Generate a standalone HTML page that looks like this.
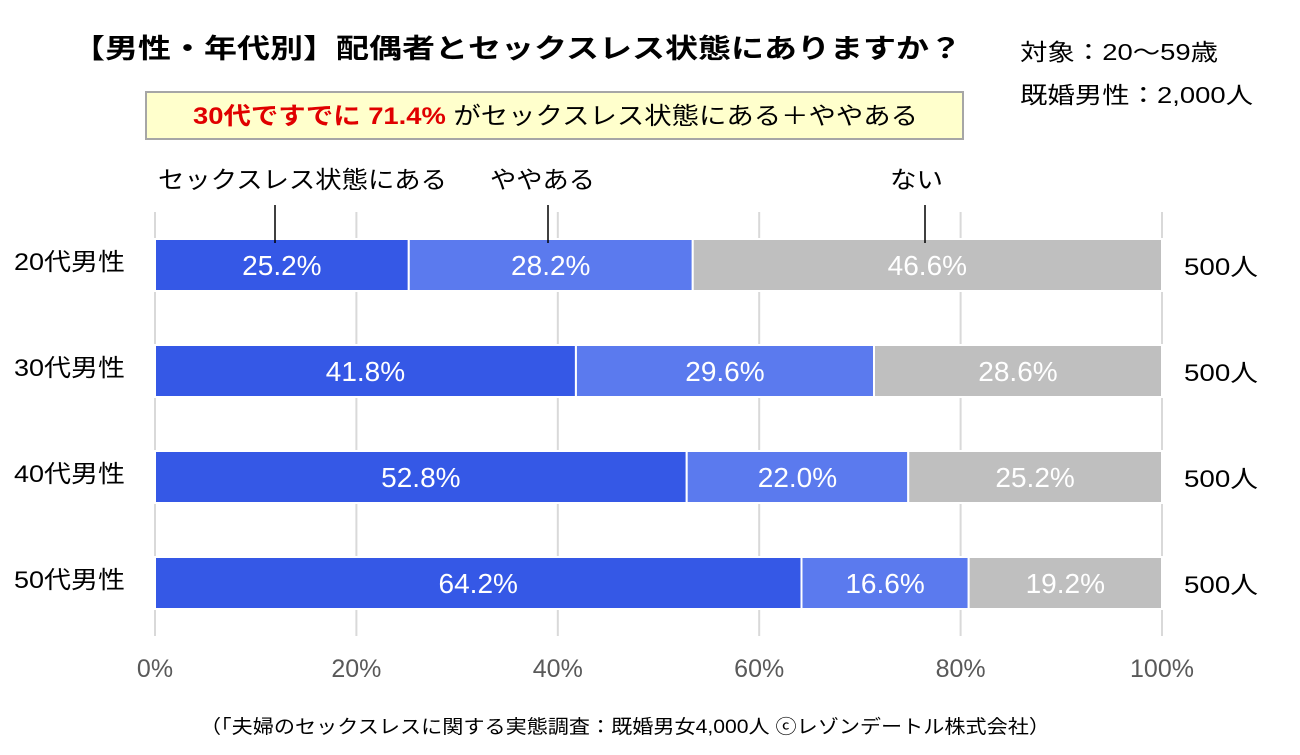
<!DOCTYPE html>
<html><head><meta charset="utf-8"><style>
body{margin:0;background:#fff;font-family:"Liberation Sans","Noto Sans CJK JP",sans-serif;}
svg text{font-family:"Liberation Sans","Noto Sans CJK JP",sans-serif;}
</style></head><body>
<svg id="c" width="1300" height="750" xmlns="http://www.w3.org/2000/svg">
<text x="72" y="58" font-size="27" font-weight="bold" fill="#000" textLength="890" lengthAdjust="spacingAndGlyphs">【男性・年代別】配偶者とセックスレス状態にありますか？</text>
<text x="1020" y="60" font-size="23" fill="#000" textLength="198" lengthAdjust="spacingAndGlyphs">対象：20～59歳</text>
<text x="1020" y="103" font-size="23" fill="#000" textLength="233" lengthAdjust="spacingAndGlyphs">既婚男性：2,000人</text>
<rect x="146" y="92" width="817" height="47" fill="#FFFFCC" stroke="#A6A6A6" stroke-width="2"/>
<text x="193" y="124" font-size="24" textLength="725" lengthAdjust="spacingAndGlyphs"><tspan fill="#E00000" font-weight="bold">30代ですでに 71.4%</tspan><tspan fill="#000"> がセックスレス状態にある＋ややある</tspan></text>
<g id="grid"></g><g id="bars"></g><g id="ann"></g>
<text x="200" y="733" font-size="19" fill="#000" textLength="850" lengthAdjust="spacingAndGlyphs">（「夫婦のセックスレスに関する実態調査：既婚男女4,000人 ⓒレゾンデートル株式会社）</text>
</svg>
<script>
const categories=["20代男性","30代男性","40代男性","50代男性"];
const seriesYes=[25.2,41.8,52.8,64.2];
const seriesSome=[28.2,29.6,22.0,16.6];
const seriesNo=[46.6,28.6,25.2,19.2];
const counts=["500人","500人","500人","500人"];
const ticks=[0,20,40,60,80,100];
const NS="http://www.w3.org/2000/svg";
const x=v=>155+v/100*1007;
const yb=i=>239+i*106;
function mk(p,t,a){const e=document.createElementNS(NS,t);for(const k in a)e.setAttribute(k,a[k]);p.appendChild(e);return e;}
const grid=document.getElementById('grid'),bars=document.getElementById('bars'),ann=document.getElementById('ann');
ticks.forEach(t=>{
 const l=mk(grid,'line',{x1:x(t),x2:x(t),y1:212,y2:636,stroke:'#D9D9D9','stroke-width':2});
 
 
 const tx=mk(grid,'text',{x:x(t),y:677,'font-size':25,'text-anchor':'middle',fill:'#595959'});
 tx.textContent=t+'%';
 
 
});
const cols=['#3558E6','#5B7AEE','#BFBFBF'];
categories.forEach((c,i)=>{
 const vals=[seriesYes[i],seriesSome[i],seriesNo[i]];
 let s=0;
 vals.forEach((v,j)=>{
  const r=mk(bars,'rect',{x:x(s),y:yb(i),width:x(s+v)-x(s),height:52,fill:cols[j],stroke:'#fff','stroke-width':2});
  
  
  const t=mk(bars,'text',{x:(x(s)+x(s+v))/2,y:yb(i)+36,'font-size':28,'text-anchor':'middle',fill:'#fff'});
  t.textContent=v.toFixed(1)+'%';
  
  
  s+=v;
 });
 const cl=mk(bars,'text',{x:14,y:yb(i)+31,'font-size':24,fill:'#000',textLength:111,lengthAdjust:'spacingAndGlyphs'});
 cl.textContent=c;
 
 
 const n=mk(bars,'text',{x:1184,y:yb(i)+36,'font-size':24,fill:'#000',textLength:74,lengthAdjust:'spacingAndGlyphs'});
 n.textContent=counts[i];
 
 
});
const legendNames=["セックスレス状態にある","ややある","ない"];
const legendX=[275,548,925];
const legendL=[158,490,890];
const legendW=[289,105,53];
legendNames.forEach((nm,k)=>{
 const t=mk(ann,'text',{x:legendL[k],y:188,'font-size':24,fill:'#000',textLength:legendW[k],lengthAdjust:'spacingAndGlyphs'});
 t.textContent=nm;
 
 
 const l=mk(ann,'line',{x1:legendX[k],x2:legendX[k],y1:205,y2:243,stroke:'#000','stroke-width':1.5});
 
 
});
</script>
</body></html>
